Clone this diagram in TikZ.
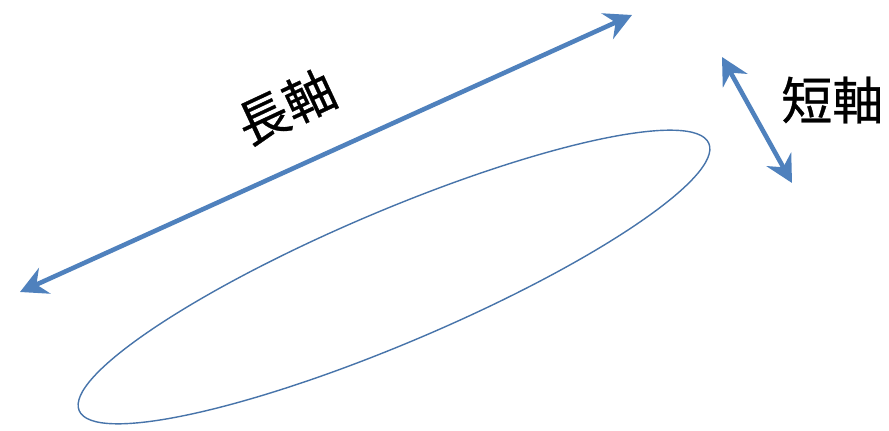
\documentclass[tikz,border=0pt]{standalone}
\usepackage{fontspec}
\newfontfamily\jpfont{Noto Sans CJK JP}[FakeBold=0.6]
\usetikzlibrary{arrows.meta}
\definecolor{axisblue}{RGB}{79,129,189}
\tikzset{
  axisarrow/.style={axisblue,line width=2.6pt,{Stealth[length=5.4mm,width=5.6mm,inset=1.8mm]}-{Stealth[length=5.4mm,width=5.6mm,inset=1.8mm]}},
  axislabel/.style={font=\jpfont\fontsize{29}{34}\selectfont,inner sep=0pt}
}
\begin{document}
\begin{tikzpicture}[x=0.02cm,y=0.02cm]
        \useasboundingbox[fill=white] (0,0) rectangle (889,430);

        % ellipse
        \draw[axisblue!90!black,line width=0.8pt] (394,153) ellipse[x radius=342,y radius=66,rotate=23];

        % long axis
        \coordinate (longA) at (20,138);
        \coordinate (longB) at (632,415);
        \draw[axisarrow] (longA) -- (longB);
        \node[axislabel,rotate=25] (longlabel) at (286,323) {長軸};

        % short axis
        \coordinate (shortA) at (722,373);
        \coordinate (shortB) at (792,247);
        \draw[axisarrow] (shortA) -- (shortB);
        \node[axislabel,anchor=west] (shortlabel) at (781,330) {短軸};

    \end{tikzpicture}
\end{document}
